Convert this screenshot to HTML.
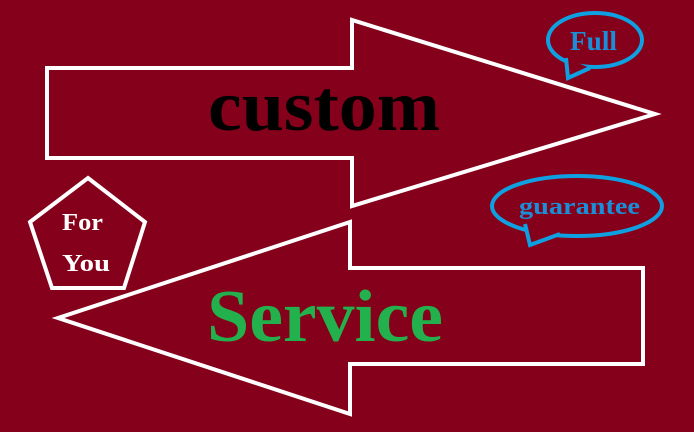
<!DOCTYPE html>
<html><head><style>html,body{margin:0;padding:0;background:#85001a;}svg{display:block}</style></head>
<body>
<svg width="694" height="432" viewBox="0 0 694 432" xmlns="http://www.w3.org/2000/svg">
<rect width="694" height="432" fill="#85001a"/>
<g fill="none" stroke="#fff" stroke-width="4" stroke-linejoin="miter">
<polygon points="47,68 352,68 352,20 655,114 352,206 352,158 47,158"/>
<polygon points="643,268 350,268 350,222 58,318 350,414 350,364 643,364"/>
<polygon points="88,178 145,222 124,288 52,288 30,222"/>
</g>
<g stroke="#0ea0e0" stroke-width="4" fill="#85001a">
<ellipse cx="595" cy="40" rx="47" ry="27"/>
<path d="M566,58 L568,78 L590,68" />
<ellipse cx="577" cy="206" rx="85" ry="30"/>
<path d="M525,224 L530,245 L560,234"/>
</g>
<g font-family="Liberation Serif, serif" font-weight="bold">
<text x="208" y="130" font-size="72" fill="#000" textLength="232" lengthAdjust="spacingAndGlyphs">custom</text>
<text x="207" y="341" font-size="74" fill="#22b14c" textLength="236" lengthAdjust="spacingAndGlyphs">Service</text>
<text x="570" y="50" font-size="27" fill="#1a8fd8" textLength="47" lengthAdjust="spacingAndGlyphs">Full</text>
<text x="519" y="214" font-size="24" fill="#1a8fd8" textLength="121" lengthAdjust="spacingAndGlyphs">guarantee</text>
<text x="62" y="230" font-size="24" fill="#fff" textLength="41" lengthAdjust="spacingAndGlyphs">For</text>
<text x="62" y="271" font-size="24" fill="#fff" textLength="48" lengthAdjust="spacingAndGlyphs">You</text>
</g>
</svg>
</body></html>
